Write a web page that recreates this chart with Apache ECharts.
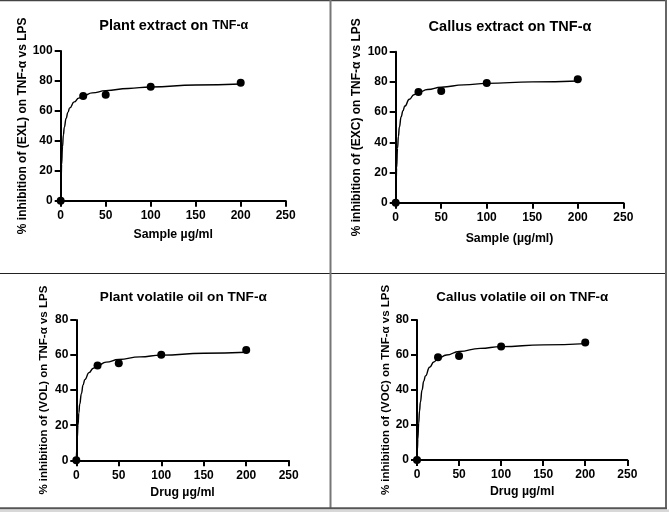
<!DOCTYPE html>
<html>
<head>
<meta charset="utf-8">
<script src="https://cdn.jsdelivr.net/npm/echarts@6/dist/echarts.min.js"></script>
<style>
  html, body { margin: 0; padding: 0; background: #fff; }
  #chart { width: 669px; height: 512px; }
</style>
</head>
<body>
<div id="chart"></div>
<script>
// concentrations (µg/ml)
const doses = [0, 25, 50, 100, 200]

// measured % inhibition
const plantExtract = [0, 69.9, 70.8, 76.2, 78.8]
const callusExtract = [0, 73.3, 74.0, 79.2, 81.7]
const plantOil = [0, 54.0, 55.3, 60.2, 62.9]
const callusOil = [0, 58.7, 59.4, 64.8, 67.2]

// fitted curves
const curveX = [0, 0.5, 1, 2, 3, 4, 6, 8, 10, 15, 20, 25, 35, 50, 75, 100, 150, 200]
const plantExtractFit = [0, 15, 24, 36, 44, 49, 55, 59, 62, 66, 68.5, 70, 72, 73.5, 75, 76, 77.3, 78]
const callusExtractFit = [0, 14, 23, 36, 44, 50, 57, 61, 64, 68.5, 71.5, 73, 75, 76.5, 78, 79, 80, 80.6]
const plantOilFit = [0, 6, 12, 20, 27, 32, 38, 43, 46, 50, 52.5, 54, 56, 57.5, 59, 60, 61, 61.6]
const callusOilFit = [0, 6, 12, 21, 28, 33, 40, 45, 48, 53, 56, 58, 60, 62, 63.8, 64.8, 65.8, 66.5]

const font = '"Liberation Sans", Arial, Helvetica, sans-serif'

const panels = [
  { grid: { left: 60.7, top: 51, width: 225, height: 149.7 }, yMax: 100, pts: plantExtract, fit: plantExtractFit,
    xName: 'Sample µg/ml', yName: '% inhibition of (EXL) on TNF-α vs LPS', xGap: 28, yGap: 32, nameSize: 12,
    title: '{a|Plant extract on }{b|TNF-α}', tx: 173.8, ty: 26, tSize: 14.5 },
  { grid: { left: 395.7, top: 51.7, width: 227.6, height: 151 }, yMax: 100, pts: callusExtract, fit: callusExtractFit,
    xName: 'Sample (µg/ml)', yName: '% inhibition of (EXC) on TNF-α vs LPS', xGap: 29.5, yGap: 33, nameSize: 12,
    title: '{a|Callus extract on TNF-α}', tx: 510, ty: 26.7, tSize: 14.5 },
  { grid: { left: 76.3, top: 320, width: 212.4, height: 140.3 }, yMax: 80, pts: plantOil, fit: plantOilFit,
    xName: 'Drug µg/ml', yName: '% inhibition of (VOL) on TNF-α vs LPS', xGap: 26, yGap: 26, nameSize: 11.5,
    title: '{a|Plant volatile oil on TNF-α}', tx: 183.3, ty: 297.3, tSize: 13.6 },
  { grid: { left: 417, top: 320, width: 210.3, height: 140 }, yMax: 80, pts: callusOil, fit: callusOilFit,
    xName: 'Drug µg/ml', yName: '% inhibition of (VOC) on TNF-α vs LPS', xGap: 26, yGap: 24, nameSize: 11.5,
    title: '{a|Callus volatile oil on TNF-α}', tx: 522.3, ty: 297, tSize: 13.4 }
]

const axisLine = { show: true, lineStyle: { color: '#000', width: 2 } }
const axisTick = { show: true, inside: false, length: 6, lineStyle: { color: '#000', width: 2 } }
const labelStyle = { color: '#000', fontFamily: font, fontWeight: 'bold', fontSize: 12 }

const grid = [], xAxis = [], yAxis = [], series = [], graphic = []

panels.forEach((p, i) => {
  grid.push(p.grid)
  xAxis.push({
    type: 'value', gridIndex: i, min: 0, max: 250, interval: 50,
    axisLine, axisTick, splitLine: { show: false },
    axisLabel: { ...labelStyle, margin: 9, showMinLabel: true, showMaxLabel: true },
    name: p.xName, nameLocation: 'middle', nameGap: p.xGap,
    nameTextStyle: { color: '#000', fontFamily: font, fontWeight: 'bold', fontSize: 12.3 }
  })
  yAxis.push({
    type: 'value', gridIndex: i, min: 0, max: p.yMax, interval: 20,
    axisLine, axisTick, splitLine: { show: false },
    axisLabel: { ...labelStyle, margin: 8 },
    name: p.yName, nameLocation: 'middle', nameGap: p.yGap, nameRotate: 90,
    nameTextStyle: { color: '#000', fontFamily: font, fontWeight: 'bold', fontSize: p.nameSize }
  })
  series.push({
    type: 'line', xAxisIndex: i, yAxisIndex: i,
    data: curveX.map((x, k) => [x, p.fit[k]]),
    smooth: true, smoothMonotone: 'x', showSymbol: false, silent: true,
    lineStyle: { color: '#000', width: 1.4 }, z: 3
  })
  series.push({
    type: 'scatter', xAxisIndex: i, yAxisIndex: i,
    data: doses.map((x, k) => [x, p.pts[k]]),
    symbolSize: 8, itemStyle: { color: '#000', opacity: 1 }, z: 4
  })
  graphic.push({
    type: 'text', x: p.tx, y: p.ty,
    style: {
      text: p.title, align: 'center', verticalAlign: 'middle', fill: '#000',
      rich: {
        a: { fontFamily: font, fontWeight: 'bold', fontSize: p.tSize, fill: '#000' },
        b: { fontFamily: font, fontWeight: 'bold', fontSize: 12.5, fill: '#000' }
      }
    }
  })
})

// panel frame lines
const frame = [
  { shape: { x1: 0, y1: 0.5, x2: 667, y2: 0.5 }, color: '#444', w: 1.5 },
  { shape: { x1: 0, y1: 273.5, x2: 666, y2: 273.5 }, color: '#222', w: 1 },
  { shape: { x1: 330.5, y1: 0, x2: 330.5, y2: 508 }, color: '#777', w: 2 },
  { shape: { x1: 666, y1: 0, x2: 666, y2: 509 }, color: '#666', w: 2 },
  { shape: { x1: 0, y1: 508.3, x2: 667, y2: 508.3 }, color: '#555', w: 2 }
]
frame.forEach(f => graphic.push({
  type: 'line', shape: f.shape, silent: true, z: 10,
  style: { stroke: f.color, lineWidth: f.w }
}))
graphic.push({ type: 'rect', shape: { x: 0, y: 509.5, width: 669, height: 3 }, style: { fill: '#d8d8d8' }, silent: true })

const chart = echarts.init(document.getElementById('chart'), null, { renderer: 'canvas' })
chart.setOption({
  animation: false,
  backgroundColor: '#fff',
  textStyle: { fontFamily: font },
  grid, xAxis, yAxis, series, graphic
})
</script>
</body>
</html>
